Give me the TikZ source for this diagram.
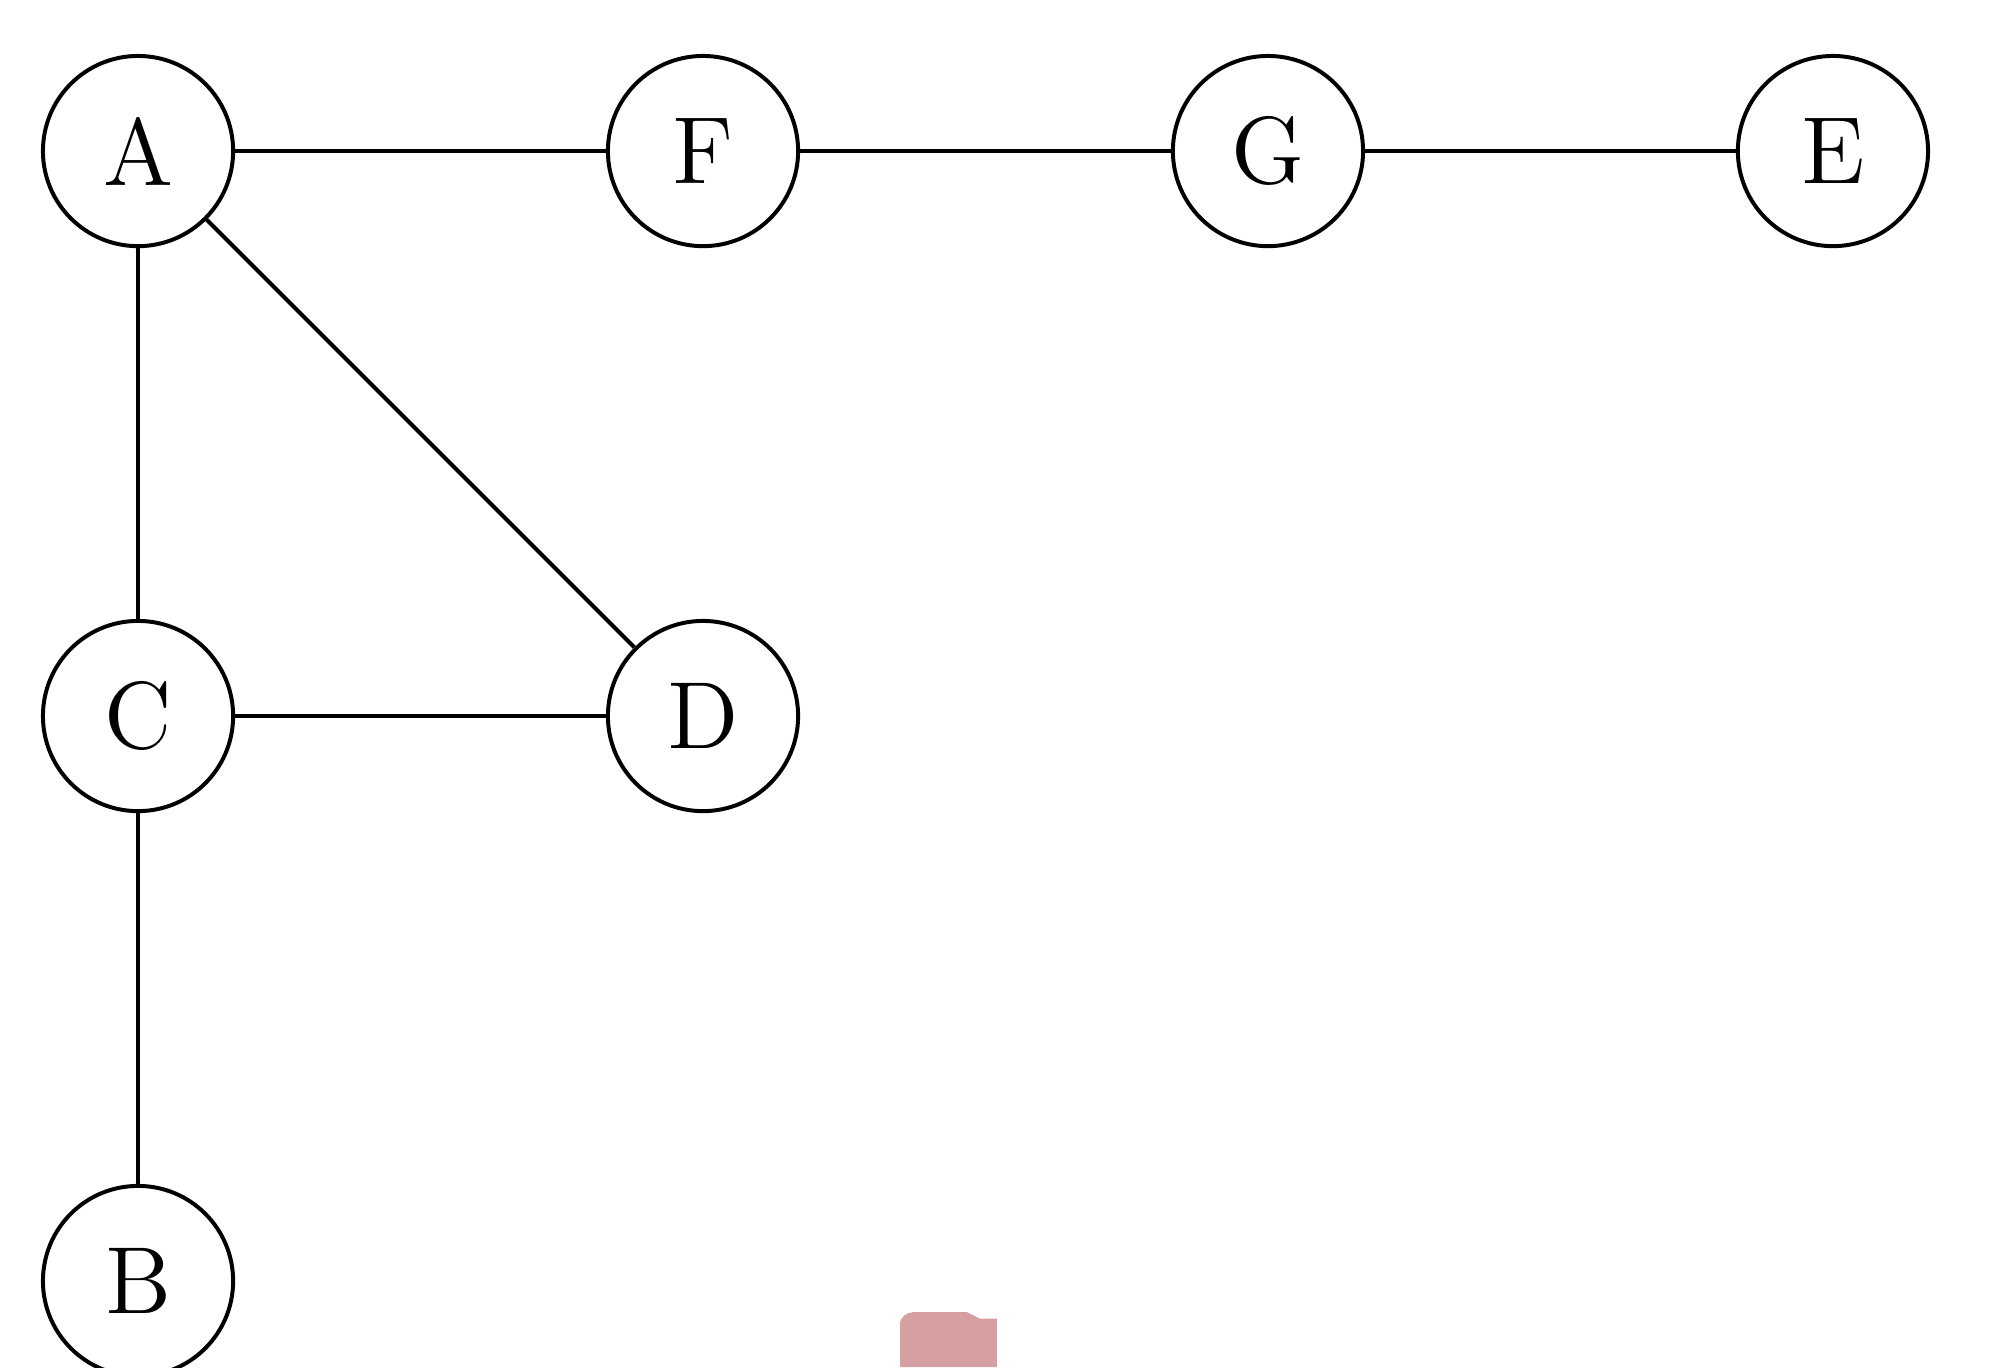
\documentclass[tikz,border=0pt]{standalone}
\usepackage{tikz}
\usetikzlibrary{calc}
\tikzset{vertex/.style={draw, circle, line width=0.6pt, minimum size=1.01cm, inner sep=0, font=\Large}}

\begin{document}
\begin{tikzpicture}[line width=0.6pt]
\useasboundingbox (-0.733,-6.457) rectangle (9.887,0.802);
\node[vertex] (A) at (0,0) {A};
\node[vertex] (F) at (3,0) {F};
\node[vertex] (G) at (6,0) {G};
\node[vertex] (E) at (9,0) {E};
\node[vertex] (C) at (0,-3) {C};
\node[vertex] (D) at (3,-3) {D};
\node[vertex] (B) at (0,-6) {B};
\draw (A)--(F);
\draw (F)--(G);
\draw (G)--(E);
\draw (A)--(C);
\draw (A)--(D);
\draw (C)--(D);
\draw (C)--(B);
\fill[fill={rgb,255:red,214;green,160;blue,162}] (4.046,-6.457)--(4.046,-6.23) to[out=90,in=180] (4.12,-6.165)--(4.4,-6.165)--(4.47,-6.2)--(4.561,-6.2)--(4.561,-6.457)--cycle;
\end{tikzpicture}
\end{document}
